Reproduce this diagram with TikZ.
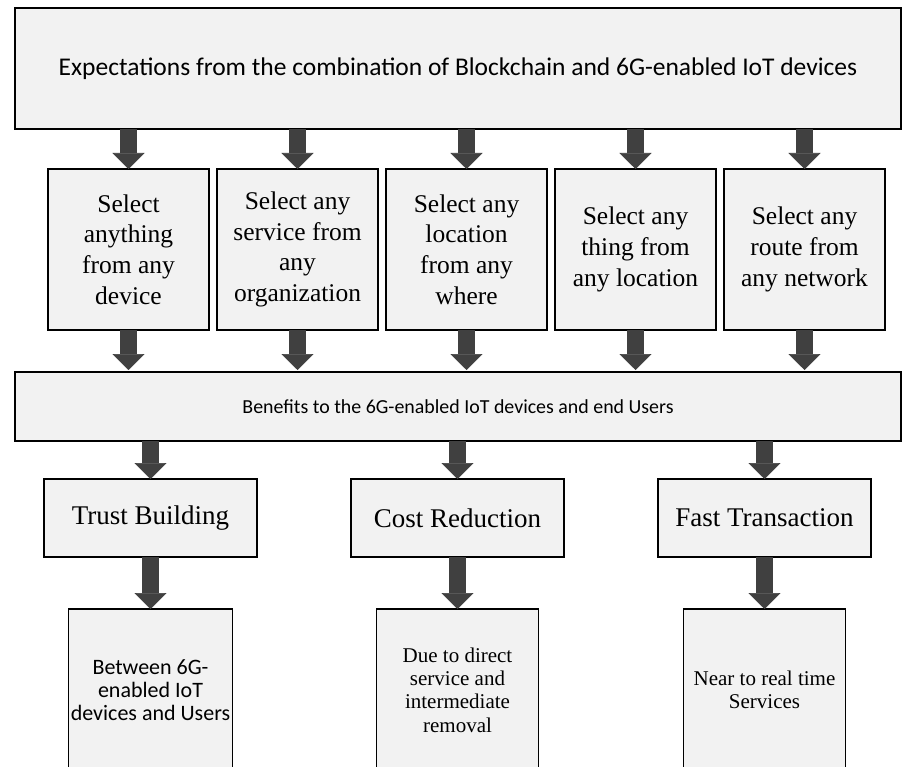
\documentclass[tikz,border=0pt]{standalone}
\usepackage{fontspec}
\newfontfamily\calibri{Carlito}
\newfontfamily\palfont{Liberation Serif}
\usepackage{tikz}
\usetikzlibrary{positioning,arrows.meta}
\definecolor{boxgrey}{RGB}{242,242,242}
\definecolor{arrowgrey}{RGB}{64,64,64}
\tikzset{
  box/.style={draw,line width=1.4pt,fill=boxgrey,align=center,inner sep=2pt,outer sep=0pt},
  widebox/.style={box,minimum width=886pt,font=\calibri\fontsize{25.5}{30}\selectfont},
  selbox/.style={box,minimum width=161pt,minimum height=161pt,font=\palfont\fontsize{25.5}{30.7}\selectfont},
  gainbox/.style={box,minimum width=213pt,minimum height=78pt,font=\palfont\fontsize{27}{30}\selectfont},
  notebox/.style={box,minimum width=162pt,minimum height=162pt,font=\palfont\fontsize{21}{23.3}\selectfont},
  bigarrow/.style={line width=17pt,arrowgrey,-{Triangle[length=16pt,width=32pt,line width=0.6pt]}},
}

\begin{document}
\begin{tikzpicture}[x=1pt,y=-1pt]
  \useasboundingbox (0,0) rectangle (902,767);
  % expectations
  \node[widebox,minimum height=121pt] (top) at (458,68.5) {Expectations from the combination of Blockchain and 6G-enabled IoT devices};
  \node[selbox,anchor=north] (sel1) at (128.5,169) {Select\\anything\\from any\\device};
  \node[selbox,right=8pt of sel1] (sel2) {Select any\\service from\\any\\organization};
  \node[selbox,right=8pt of sel2] (sel3) {Select any\\location\\from any\\where};
  \node[selbox,right=8pt of sel3] (sel4) {Select any\\thing from\\any location};
  \node[selbox,right=8pt of sel4] (sel5) {Select any\\route from\\any network};
  \foreach \s in {sel1,sel2,sel3,sel4,sel5}
    \draw[bigarrow] (\s.north |- top.south) -- (\s.north);
  % benefits
  \node[widebox,minimum height=69pt,font=\calibri\fontsize{19.9}{23}\selectfont] (ben) at (458,406.5) {Benefits to the 6G-enabled IoT devices and end Users};
  \foreach \s in {sel1,sel2,sel3,sel4,sel5}
    \draw[bigarrow] (\s.south) -- ([yshift=2pt]\s.south |- ben.north);
  \node[gainbox] (trust) at (150.5,518) {Trust Building};
  \node[gainbox,right=94pt of trust] (cost) {Cost Reduction};
  \node[gainbox,right=94pt of cost] (fast) {Fast Transaction};
  \node[notebox,below=52pt of trust,font=\calibri\fontsize{22}{23.3}\selectfont] (why1) {Between 6G-\\enabled IoT\\devices and Users};
  \node[notebox,below=52pt of cost] (why2) {Due to direct\\service and\\intermediate\\removal};
  \node[notebox,below=52pt of fast] (why3) {Near to real time\\Services};
  \foreach \s/\t in {trust/why1,cost/why2,fast/why3} {
    \draw[bigarrow] (\s.north |- ben.south) -- (\s.north);
    \draw[bigarrow] (\s.south) -- (\t.north);
  }
\end{tikzpicture}
\end{document}
